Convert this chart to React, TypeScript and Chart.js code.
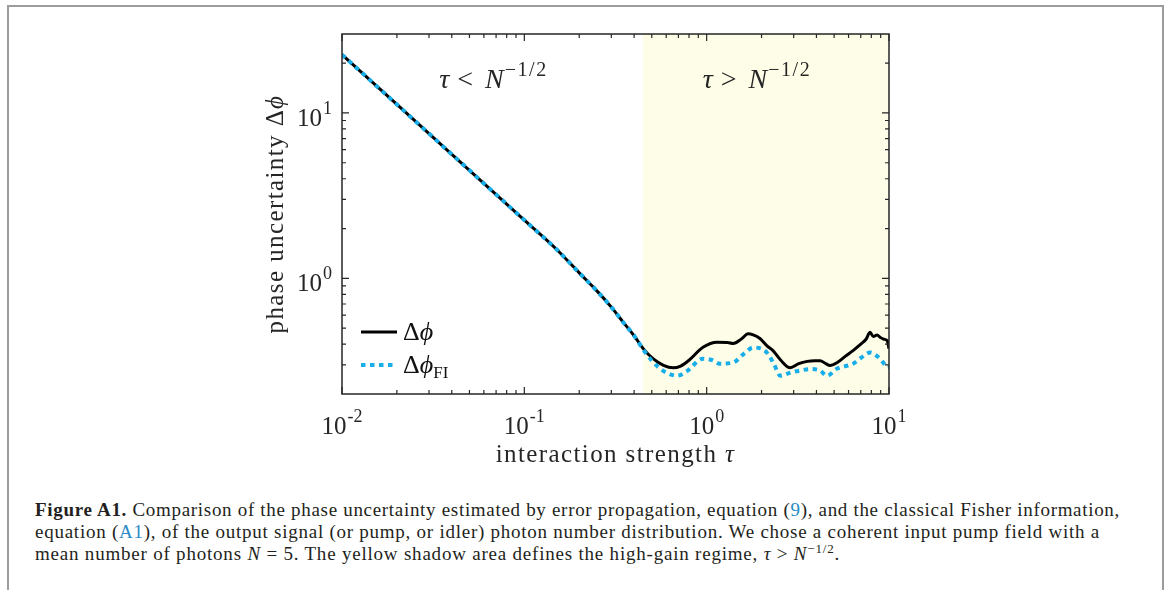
import React, { useEffect, useLayoutEffect, useRef } from 'react';
import { Chart, registerables } from 'chart.js';

Chart.register(...registerables);

// ---------- data ----------
const tauPhi = [0.01, 0.02, 0.05, 0.1, 0.15, 0.2, 0.25, 0.3, 0.35, 0.4, 0.45, 0.508, 0.58, 0.655, 0.72, 0.8, 0.955, 1.14, 1.3, 1.4, 1.55, 1.69, 1.8, 1.96, 2.15, 2.31, 2.55, 2.87, 3.2, 3.56, 3.9, 4.19, 4.5, 4.75, 5.2, 5.8, 6.35, 7.0, 7.5, 7.87, 8.2, 8.6, 8.93, 9.3, 9.77, 10];
const dPhi = [22.5, 11.25, 4.5, 2.25, 1.5, 1.08, 0.84, 0.67, 0.54, 0.45, 0.375, 0.327, 0.298, 0.288, 0.295, 0.32, 0.383, 0.411, 0.41, 0.404, 0.43, 0.462, 0.455, 0.433, 0.39, 0.366, 0.32, 0.288, 0.305, 0.315, 0.318, 0.318, 0.305, 0.297, 0.31, 0.34, 0.366, 0.4, 0.43, 0.473, 0.445, 0.455, 0.441, 0.43, 0.421, 0.376];

const tauFI = [0.01, 0.02, 0.05, 0.1, 0.15, 0.2, 0.25, 0.3, 0.35, 0.4, 0.45, 0.5, 0.555, 0.62, 0.689, 0.78, 0.955, 1.08, 1.18, 1.4, 1.6, 1.8, 2.14, 2.35, 2.53, 2.9, 3.25, 3.7, 4.19, 4.57, 5.2, 6.35, 7.0, 7.87, 8.93, 9.5, 9.77, 10];
const dPhiFI = [22.5, 11.25, 4.5, 2.25, 1.5, 1.08, 0.84, 0.67, 0.54, 0.45, 0.37, 0.318, 0.285, 0.265, 0.258, 0.275, 0.327, 0.32, 0.305, 0.31, 0.35, 0.382, 0.356, 0.3, 0.258, 0.27, 0.277, 0.283, 0.277, 0.258, 0.285, 0.305, 0.33, 0.356, 0.327, 0.3, 0.289, 0.29];

const xMajorTicks = [0.01, 0.1, 1, 10];
const xTickExponents = ['-2', '-1', '0', '1'];
const yMajorTicks = [1, 10];
const yTickExponents = ['0', '1'];
const minorMultipliers = [2, 3, 4, 5, 6, 7, 8, 9];
const xRange = [0.01, 10];
const yRange = [0.2, 30];
const photonNumber = 5; // N
const highGainStart = Math.pow(photonNumber, -0.5); // tau = N^{-1/2}

const legendLabels = ['Δ', 'ϕ', 'FI'];
const xTitle = 'interaction strength ';
const yTitle = 'phase uncertainty ';

// ---------- style ----------
const SERIF = '"Liberation Serif", "Times New Roman", serif';
const BLUE = '#18aeea';
const AXIS = '#262626';
const SHADE = 'rgb(254, 253, 232)';

type Run = { t: string; f: string; dy?: number; dx?: number; ls?: number };

function runWidth(ctx: CanvasRenderingContext2D, r: Run) {
  ctx.font = r.f;
  (ctx as any).letterSpacing = `${r.ls || 0}px`;
  return ctx.measureText(r.t).width + (r.dx || 0);
}

function drawRuns(ctx: CanvasRenderingContext2D, runs: Run[], x: number, y: number, align: 'left' | 'center' | 'right', baseLs = 0) {
  const rr = runs.map((r) => ({ ...r, ls: r.ls ?? baseLs }));
  const w = rr.reduce((s, r) => s + runWidth(ctx, r), 0);
  let cx = align === 'center' ? x - w / 2 : align === 'right' ? x - w : x;
  ctx.textAlign = 'left';
  ctx.textBaseline = 'alphabetic';
  for (const r of rr) {
    cx += r.dx || 0;
    ctx.font = r.f;
    (ctx as any).letterSpacing = `${r.ls || 0}px`;
    ctx.fillText(r.t, cx, y + (r.dy || 0));
    cx += ctx.measureText(r.t).width;
  }
  (ctx as any).letterSpacing = '0px';
}

const rom = (s: number) => `${s}px ${SERIF}`;
const ita = (s: number) => `italic ${s}px ${SERIF}`;

const figurePlugin = {
  id: 'figureDecor',
  beforeDatasetsDraw(chart: any) {
    const { ctx, chartArea: ca, scales } = chart;
    const xs = scales.x.getPixelForValue(highGainStart);
    ctx.save();
    ctx.fillStyle = SHADE;
    ctx.fillRect(xs, ca.top, ca.right - xs, ca.bottom - ca.top);
    ctx.restore();
  },
  afterDatasetsDraw(chart: any) {
    const { ctx, chartArea: ca, scales } = chart;
    const xs = scales.x;
    const ys = scales.y;
    ctx.save();

    // box
    ctx.strokeStyle = AXIS;
    ctx.lineWidth = 1.5;
    ctx.strokeRect(ca.left, ca.top, ca.right - ca.left, ca.bottom - ca.top);

    // ticks
    const MAJ = 7;
    const MIN = 4;
    ctx.lineWidth = 1.2;
    ctx.beginPath();
    const xTick = (v: number, len: number) => {
      const p = xs.getPixelForValue(v);
      ctx.moveTo(p, ca.bottom);
      ctx.lineTo(p, ca.bottom - len);
      ctx.moveTo(p, ca.top);
      ctx.lineTo(p, ca.top + len);
    };
    const yTick = (v: number, len: number) => {
      const p = ys.getPixelForValue(v);
      ctx.moveTo(ca.left, p);
      ctx.lineTo(ca.left + len, p);
      ctx.moveTo(ca.right, p);
      ctx.lineTo(ca.right - len, p);
    };
    xMajorTicks.forEach((v) => xTick(v, MAJ));
    xMajorTicks.slice(0, -1).forEach((d) =>
      minorMultipliers.forEach((m) => xTick(d * m, MIN))
    );
    yMajorTicks.forEach((v) => yTick(v, MAJ));
    [0.1, 1, 10].forEach((d) =>
      minorMultipliers.forEach((m) => {
        const v = d * m;
        if (v > yRange[0] && v < yRange[1]) yTick(v, MIN);
      })
    );
    ctx.stroke();

    // tick labels
    ctx.fillStyle = AXIS;
    xMajorTicks.forEach((v, i) => {
      const p = xs.getPixelForValue(v);
      drawRuns(ctx, [
        { t: '10', f: rom(25) },
        { t: xTickExponents[i], f: rom(18), dy: -12, dx: 1 },
      ], p, ca.bottom + 40, 'center');
    });
    yMajorTicks.forEach((v, i) => {
      const p = ys.getPixelForValue(v);
      drawRuns(ctx, [
        { t: '10', f: rom(25) },
        { t: yTickExponents[i], f: rom(18), dy: -12, dx: 1 },
      ], ca.left - 10, p + 13, 'right');
    });

    // axis titles
    drawRuns(ctx, [
      { t: xTitle, f: rom(25) },
      { t: 'τ', f: ita(25) },
    ], (ca.left + ca.right) / 2, ca.bottom + 68, 'center', 1.4);
    ctx.save();
    ctx.translate(ca.left - 59, (ca.top + ca.bottom) / 2);
    ctx.rotate(-Math.PI / 2);
    drawRuns(ctx, [
      { t: yTitle, f: rom(25) },
      { t: 'Δ', f: rom(25) },
      { t: 'ϕ', f: ita(25) },
    ], 0, 0, 'center', 1.4);
    ctx.restore();

    // regime annotations
    const leftMid = xs.getPixelForValue(Math.sqrt(xRange[0] * highGainStart)) + 1;
    const rightMid = xs.getPixelForValue(Math.sqrt(highGainStart * xRange[1])) - 9;
    const annY = ca.top + 54;
    const annRuns = (rel: string): Run[] => [
      { t: 'τ', f: ita(28) },
      { t: rel, f: rom(28), dx: 8 },
      { t: 'N', f: ita(28), dx: 12 },
      { t: '−1/2', f: rom(20), dy: -12, dx: 1, ls: 1.5 },
    ];
    drawRuns(ctx, annRuns('<'), leftMid, annY, 'center');
    drawRuns(ctx, annRuns('>'), rightMid, annY, 'center');

    // legend
    const lx = ca.left + 19;
    const l1 = ca.top + 298;
    const l2 = ca.top + 331;
    ctx.strokeStyle = '#000';
    ctx.lineWidth = 3;
    ctx.beginPath();
    ctx.moveTo(lx, l1);
    ctx.lineTo(lx + 36, l1);
    ctx.stroke();
    ctx.strokeStyle = BLUE;
    ctx.lineWidth = 4;
    ctx.setLineDash([4.5, 4.5]);
    ctx.beginPath();
    ctx.moveTo(lx, l2);
    ctx.lineTo(lx + 36, l2);
    ctx.stroke();
    ctx.setLineDash([]);
    ctx.fillStyle = '#111';
    drawRuns(ctx, [
      { t: legendLabels[0], f: rom(26) },
      { t: legendLabels[1], f: ita(26) },
    ], lx + 42, l1 + 8, 'left');
    drawRuns(ctx, [
      { t: legendLabels[0], f: rom(26) },
      { t: legendLabels[1], f: ita(26) },
      { t: legendLabels[2], f: rom(17), dy: 5 },
    ], lx + 42, l2 + 8, 'left');

    ctx.restore();
  },
};

const captionTargets = [1085, 1065, 805];

export default function App() {
  const canvasRef = useRef<HTMLCanvasElement | null>(null);
  const lineRefs = useRef<(HTMLDivElement | null)[]>([]);

  useEffect(() => {
    const canvas = canvasRef.current;
    if (!canvas) return;
    const chart = new Chart(canvas, {
      type: 'line',
      data: {
        datasets: [
          {
            label: 'Δϕ_FI',
            data: tauFI.map((t, i) => ({ x: t, y: dPhiFI[i] })),
            borderColor: BLUE,
            borderWidth: 4,
            borderDash: [4.5, 4.5],
            borderCapStyle: 'butt',
            pointRadius: 0,
            cubicInterpolationMode: 'monotone',
            fill: false,
            order: 0,
          },
          {
            label: 'Δϕ',
            data: tauPhi.map((t, i) => ({ x: t, y: dPhi[i] })),
            borderColor: '#000',
            borderWidth: 3,
            pointRadius: 0,
            cubicInterpolationMode: 'monotone',
            fill: false,
            order: 1,
          },
        ],
      },
      options: {
        animation: false,
        responsive: false,
        events: [],
        layout: { padding: { left: 342, right: 281, top: 34, bottom: 76 } },
        scales: {
          x: { type: 'logarithmic', min: xRange[0], max: xRange[1], display: false },
          y: { type: 'logarithmic', min: yRange[0], max: yRange[1], display: false },
        },
        plugins: { legend: { display: false }, tooltip: { enabled: false } },
      } as any,
      plugins: [figurePlugin as any],
    } as any);
    return () => chart.destroy();
  }, []);

  useLayoutEffect(() => {
    lineRefs.current.forEach((el, i) => {
      if (!el) return;
      el.style.letterSpacing = '0px';
      const w = el.getBoundingClientRect().width;
      const n = (el.textContent || '').length;
      const ls = (captionTargets[i] - w) / Math.max(1, n);
      el.style.letterSpacing = `${ls}px`;
    });
  }, []);

  const lineStyle = (top: number): React.CSSProperties => ({
    position: 'absolute',
    left: 35,
    top,
    whiteSpace: 'nowrap',
    fontFamily: SERIF,
    fontSize: 19,
    lineHeight: '22px',
    color: '#231f20',
    width: 'max-content',
  });
  const link: React.CSSProperties = { color: '#2b8ac6' };

  return (
    <div style={{ position: 'absolute', left: 0, top: 0, width: 1170, height: 590, background: '#fff', overflow: 'hidden' }}>
      <div style={{ position: 'absolute', left: 7, top: 5, width: 1157, height: 620, boxSizing: 'border-box', borderTop: '2px solid #9c9c9c', borderLeft: '2px solid #9c9c9c', borderRight: '2px solid #9c9c9c' }} />
      <canvas ref={canvasRef} width={1170} height={470} style={{ position: 'absolute', left: 0, top: 0, width: 1170, height: 470 }} />
      <div ref={(el) => { lineRefs.current[0] = el; }} style={lineStyle(499)}>
        <b>Figure A1.</b> Comparison of the phase uncertainty estimated by error propagation, equation (<span style={link}>9</span>), and the classical Fisher information,
      </div>
      <div ref={(el) => { lineRefs.current[1] = el; }} style={lineStyle(521)}>
        equation (<span style={link}>A1</span>), of the output signal (or pump, or idler) photon number distribution. We chose a coherent input pump field with a
      </div>
      <div ref={(el) => { lineRefs.current[2] = el; }} style={lineStyle(543)}>
        mean number of photons <i>N</i> = 5. The yellow shadow area defines the high-gain regime, <i>τ</i> &gt; <i>N</i>
        <sup style={{ fontSize: 13, verticalAlign: 'baseline', position: 'relative', top: -7 }}>−1/2</sup>.
      </div>
    </div>
  );
}
